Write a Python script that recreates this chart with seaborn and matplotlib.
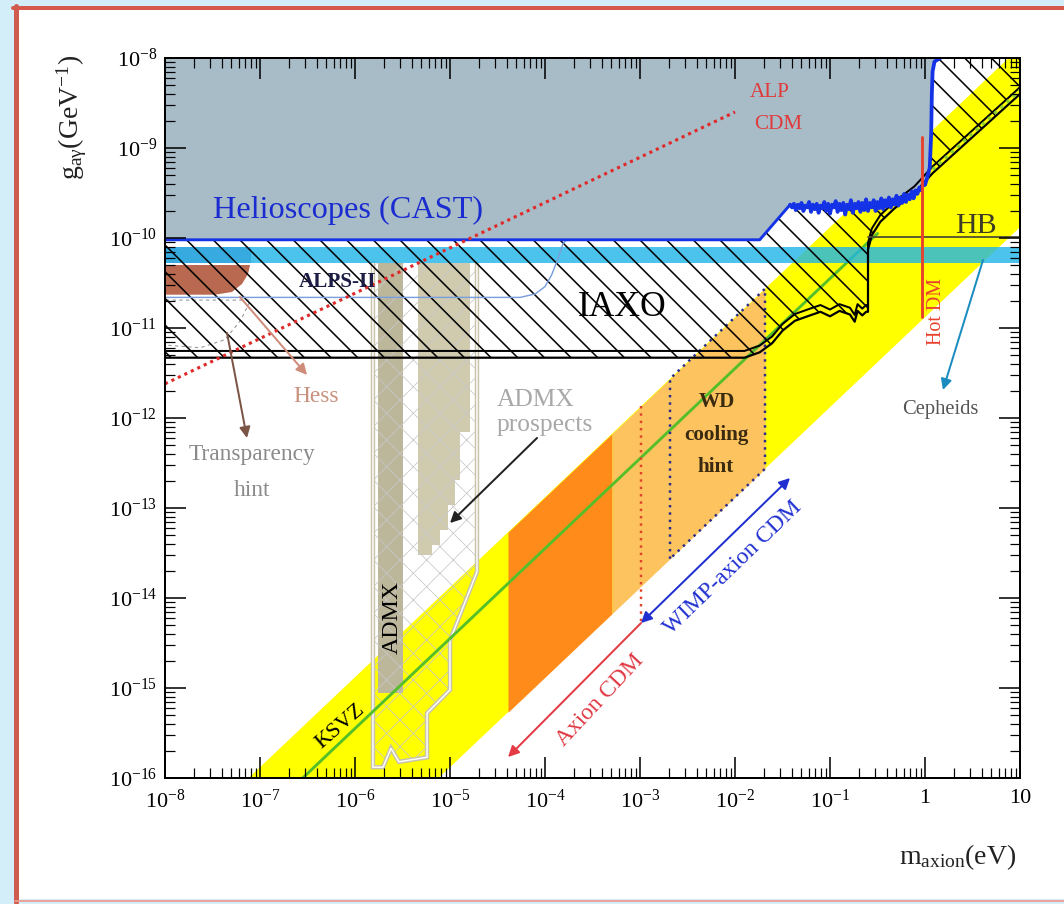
import numpy as np
import matplotlib
matplotlib.use("Agg")
import matplotlib.pyplot as plt
import seaborn as sns
from matplotlib.patches import Rectangle, Polygon
from matplotlib.lines import Line2D
from matplotlib.ticker import FixedLocator, FixedFormatter, LogLocator, NullFormatter

# ---------------- data (log10 of mass in eV / coupling in GeV^-1) ----------------
x_tick_log = [-8, -7, -6, -5, -4, -3, -2, -1, 0, 1]
x_tick_labels = [r"$\mathregular{10^{-8}}$", r"$\mathregular{10^{-7}}$", r"$\mathregular{10^{-6}}$",
                 r"$\mathregular{10^{-5}}$", r"$\mathregular{10^{-4}}$", r"$\mathregular{10^{-3}}$",
                 r"$\mathregular{10^{-2}}$", r"$\mathregular{10^{-1}}$", "1", "10"]
y_tick_log = [-16, -15, -14, -13, -12, -11, -10, -9, -8]
y_tick_labels = [r"$\mathregular{10^{%d}}$" % v for v in y_tick_log]

# QCD axion band: log g = log m + offset
band_upper_offset = -8.88
band_lower_offset = -10.88
ksvz_offset = -9.45
ksvz_logm = [-6.55, -0.5]
dark_orange_logm = [-4.39, -3.295]
light_orange_logm = [-3.295, -1.684]
wd_logm = [-2.684, -1.684]

# Helioscope (CAST) exclusion limit: flat part, noisy high-mass part, steep edge
cast_flat_logm = [-8.0, -1.74]
cast_flat_logg = [-10.02, -10.02]
cast_noise_logm = [-1.42, -1.40, -1.38, -1.36, -1.34, -1.32, -1.30, -1.28, -1.26, -1.24,
                   -1.22, -1.20, -1.18, -1.16, -1.14, -1.12, -1.10, -1.08, -1.06, -1.04,
                   -1.02, -1.00, -0.98, -0.96, -0.94, -0.92, -0.90, -0.88, -0.86, -0.84,
                   -0.82, -0.80, -0.78, -0.76, -0.74, -0.72, -0.70, -0.68, -0.66, -0.64,
                   -0.62, -0.60, -0.58, -0.56, -0.54, -0.52, -0.50, -0.48, -0.46, -0.44,
                   -0.42, -0.40, -0.38, -0.36, -0.34, -0.32, -0.30, -0.28, -0.26, -0.24,
                   -0.22, -0.20, -0.18, -0.16, -0.14, -0.12, -0.10, -0.08, -0.06, -0.04,
                   -0.02, 0.00, 0.02]
cast_noise_logg = [-9.63, -9.66, -9.62, -9.69, -9.63, -9.67, -9.61, -9.70, -9.64, -9.66,
                   -9.60, -9.71, -9.63, -9.68, -9.62, -9.72, -9.64, -9.67, -9.60, -9.70,
                   -9.62, -9.73, -9.63, -9.66, -9.59, -9.71, -9.62, -9.69, -9.61, -9.74,
                   -9.63, -9.68, -9.58, -9.72, -9.62, -9.67, -9.60, -9.71, -9.61, -9.69,
                   -9.57, -9.70, -9.61, -9.66, -9.58, -9.70, -9.60, -9.67, -9.56, -9.68,
                   -9.58, -9.65, -9.55, -9.66, -9.57, -9.63, -9.53, -9.64, -9.55, -9.61,
                   -9.51, -9.60, -9.52, -9.57, -9.48, -9.56, -9.47, -9.51, -9.44, -9.47,
                   -9.40, -9.41, -9.34]
cast_edge_logm = [0.05, 0.065, 0.072, 0.08, 0.10, 0.16]
cast_edge_logg = [-9.22, -8.85, -8.40, -8.15, -8.04, -8.0]
cast_logm = cast_flat_logm + cast_noise_logm + cast_edge_logm
cast_logg = cast_flat_logg + cast_noise_logg + cast_edge_logg

# IAXO sensitivity (lower edge of the hatched region); the second contour sits just above it
iaxo_logm = [-8.0, -1.90, -1.74, -1.61, -1.50, -1.37, -1.21, -1.10, -1.00, -0.90, -0.79, -0.74,
             -0.71, -0.66, -0.62, -0.60, -0.60, -0.56, -0.47, -0.32, -0.11, 0.08, 1.0]
iaxo_logg = [-11.33, -11.33, -11.27, -11.17, -11.03, -10.92, -10.86, -10.82, -10.87, -10.81, -10.85,
             -10.93, -10.81, -10.86, -10.82, -10.82, -10.13, -9.97, -9.82, -9.67, -9.50, -9.28, -8.40]
iaxo_plus_shift = 0.075

# ALPS-II sensitivity
alps_logm = [-8.0, -4.26, -4.10, -4.00, -3.93, -3.86, -3.81, -3.77]
alps_logg = [-10.66, -10.66, -10.62, -10.54, -10.41, -10.22, -10.06, -10.02]

# ADMX (excluded) and ADMX prospects
admx_logm = [-5.758, -5.495]
admx_logg = [-15.06, -10.28]
admx2_edges_logm = [-5.337, -5.189, -5.105, -5.021, -4.947, -4.895, -4.789]
admx2_floor_logg = [-13.52, -13.41, -13.24, -12.97, -12.69, -12.16]
admx_top_logg = -10.28
prosp_logm = [-5.811, -5.811, -5.705, -5.621, -5.537, -5.242, -5.242, -5.0, -5.0, -4.716, -4.716]
prosp_logg = [-10.28, -15.88, -15.88, -15.67, -15.82, -15.77, -15.28, -15.02, -14.47, -13.71, -10.28]

# Hess region and transparency hint
hess_logm = [-7.99, -7.105, -7.126, -7.189, -7.295, -7.474, -7.99]
hess_logg = [-10.30, -10.30, -10.40, -10.51, -10.60, -10.63, -10.63]
transp_logm = [-7.99, -7.10, -7.20, -7.37, -7.63, -7.99]
transp_logg = [-10.69, -10.69, -10.91, -11.13, -11.22, -11.19]

# Cepheid band, HB limit, Hot DM, ALP CDM line, axion CDM marker
cepheid_logg = [-10.278, -10.10]
cepheid_dark_logm = [-8.0, -7.10]
hb_logm = [-0.6, 1.0]
hb_logg = -9.99
hotdm_logm = -0.032
hotdm_logg = [-8.878, -10.878]
alp_logm = [-8.0, -2.0]
alp_logg = [-11.62, -8.60]
cdm_logm = -2.99
cdm_logg = [-11.87, -14.28]

P = lambda a: 10.0 ** np.asarray(a, dtype=float)

# ---------------- style ----------------
sns.set_theme(style="ticks")
plt.rcParams["font.family"] = ["Liberation Serif", "DejaVu Serif"]
plt.rcParams["mathtext.fontset"] = "custom"
plt.rcParams["mathtext.rm"] = "Liberation Serif"
plt.rcParams["mathtext.it"] = "Liberation Serif:italic"
plt.rcParams["mathtext.bf"] = "Liberation Serif:bold"
plt.rcParams["hatch.linewidth"] = 1.4

W, H = 1064, 904
fig = plt.figure(figsize=(W / 80, H / 80), dpi=80)
fig.patch.set_facecolor("#d4eef9")
fig.add_artist(Rectangle((16 / W, 1 - 899 / H), 1 - 16 / W, 890 / H, transform=fig.transFigure,
                         facecolor="white", edgecolor="none", zorder=-5))
fig.add_artist(Line2D([13 / W, 1], [1 - 8 / H] * 2, transform=fig.transFigure, color="#d65a4c", lw=3.6))
fig.add_artist(Line2D([15.5 / W] * 2, [1 - 6 / H, 1 - 902 / H], transform=fig.transFigure,
                      color="#cf5a4e", lw=4.5))
fig.add_artist(Line2D([15 / W, 1], [1 - 900.5 / H] * 2, transform=fig.transFigure, color="#ec9d90", lw=1.6))

ax = fig.add_axes([165 / W, 1 - 778 / H, 855 / W, 720 / H])
ax.set_facecolor("white")
ax.set_xscale("log")
ax.set_yscale("log")

# QCD axion band
m_all = P([-8, 1])
ax.fill_between(m_all, m_all * 10 ** band_lower_offset, m_all * 10 ** band_upper_offset,
                color="#ffff00", lw=0, zorder=1)
m_do = P(dark_orange_logm)
ax.fill_between(m_do, m_do * 10 ** band_lower_offset, m_do * 10 ** band_upper_offset,
                color="#ff8c1a", lw=0, zorder=2)
m_lo = P(light_orange_logm)
ax.fill_between(m_lo, m_lo * 10 ** band_lower_offset, m_lo * 10 ** band_upper_offset,
                color="#fcc35e", lw=0, zorder=2)

# ADMX
ax.fill_between(P(admx_logm), 10 ** admx_logg[0], 10 ** admx_logg[1], color="#bcb79b", lw=0, zorder=3)
ax.fill_between(P(admx2_edges_logm), P(admx2_floor_logg + [admx2_floor_logg[-1]]), 10 ** admx_top_logg,
                step="post", color="#d0cbaf", lw=0, zorder=3)
prosp = Polygon(np.column_stack([P(prosp_logm), P(prosp_logg)]), closed=True, facecolor="none",
                edgecolor="#c8c8c8", lw=0, hatch="x", zorder=4)
if hasattr(prosp, "set_hatch_linewidth"):
    prosp.set_hatch_linewidth(0.7)
ax.add_patch(prosp)
ax.plot(P(prosp_logm), P(prosp_logg), color="#c9c4aa", lw=4.0, zorder=4.2, solid_joinstyle="miter")
ax.plot(P(prosp_logm), P(prosp_logg), color="white", lw=1.3, zorder=4.3, solid_joinstyle="miter")

# KSVZ line
ks_m = P(ksvz_logm)
sns.lineplot(x=ks_m, y=ks_m * 10 ** ksvz_offset, ax=ax, color="#55bf2a", lw=2.6, zorder=5)

# WD cooling hint outline and axion CDM marker
wd_m = P(wd_logm)
wd_x = [wd_m[0], wd_m[0], wd_m[1], wd_m[1], wd_m[0]]
wd_y = [wd_m[0] * 10 ** band_lower_offset, wd_m[0] * 10 ** band_upper_offset,
        wd_m[1] * 10 ** band_upper_offset, wd_m[1] * 10 ** band_lower_offset,
        wd_m[0] * 10 ** band_lower_offset]
ax.plot(wd_x, wd_y, color="#2b2b8a", lw=2.2, ls=(0, (1, 2)), zorder=5.5)
ax.plot([10 ** cdm_logm] * 2, P(cdm_logg), color="#e0452a", lw=2.2, ls=(0, (1, 2)), zorder=5.5)

# Cepheid band and Hess region
ax.fill_between(P([-8, 1]), 10 ** cepheid_logg[0], 10 ** cepheid_logg[1], color="#1fb4e8",
                alpha=0.8, lw=0, zorder=6)
ax.fill_between(P(cepheid_dark_logm), 10 ** cepheid_logg[0], 10 ** cepheid_logg[1], color="#1f8fd0",
                alpha=0.45, lw=0, zorder=6.1)
ax.fill(P(hess_logm), P(hess_logg), color="#b8694f", lw=0, zorder=6)
ax.plot(P(transp_logm), P(transp_logg), color="#999999", lw=1.0, ls=(0, (3, 3)), zorder=6)

# CAST excluded region
ax.fill_between(P(cast_logm), P(cast_logg), 1e-8, color="#a8bcc8", lw=0, zorder=7)

# IAXO hatched region
verts = list(zip(P(cast_logm), P(cast_logg)))
verts += [(10.0, 1e-8), (10.0, 10 ** iaxo_logg[-1])]
verts += list(zip(P(iaxo_logm), P(iaxo_logg)))[::-1]
iaxo = Polygon(verts, closed=True, facecolor="none", edgecolor="black", lw=0, hatch="\\", zorder=8)
if hasattr(iaxo, "set_hatch_linewidth"):
    iaxo.set_hatch_linewidth(1.4)
ax.add_patch(iaxo)

# limit curves
sns.lineplot(x=P(iaxo_logm), y=P(iaxo_logg), ax=ax, sort=False, estimator=None, color="black", lw=2.0, zorder=9)
sns.lineplot(x=P(iaxo_logm), y=P(np.array(iaxo_logg) + iaxo_plus_shift), ax=ax, sort=False,
             estimator=None, color="black", lw=1.8, zorder=9)
ax.plot(P([0.08, 1.0]), P([iaxo_logg[-2] + 0.04, iaxo_logg[-1] + 0.04]), color="#8fd12a", lw=3.0,
        ls=(0, (1, 1.5)), zorder=9)
sns.lineplot(x=P(alps_logm), y=P(alps_logg), ax=ax, sort=False, estimator=None,
             color="#7a9fdc", lw=1.3, zorder=9)
sns.lineplot(x=P(cast_flat_logm + [cast_noise_logm[0]]), y=P(cast_flat_logg + [cast_noise_logg[0]]),
             ax=ax, sort=False, estimator=None, color="#1433e6", lw=2.6, zorder=9.5)
sns.lineplot(x=P(cast_noise_logm + cast_edge_logm), y=P(cast_noise_logg + cast_edge_logg),
             ax=ax, sort=False, estimator=None, color="#1433e6", lw=3.4, zorder=9.5)

ax.plot(P(hb_logm), [10 ** hb_logg] * 2, color="#4d4d33", lw=1.6, zorder=9)
ax.plot([10 ** hotdm_logm] * 2, P(hotdm_logg), color="#e8412c", lw=2.6, zorder=10)
ax.plot(P(alp_logm), P(alp_logg), color="#e02a2a", lw=2.8, ls=(0, (1, 1.3)), zorder=10)

# arrows
def arrow(tail, tip, color, style="-|>", lw=1.8):
    ax.annotate("", xy=(10 ** tip[0], 10 ** tip[1]), xytext=(10 ** tail[0], 10 ** tail[1]),
                arrowprops=dict(arrowstyle=style, color=color, lw=lw, mutation_scale=20,
                                shrinkA=0, shrinkB=0), zorder=11)

arrow((-7.211, -10.656), (-6.505, -11.522), "#cf8c7a")
arrow((-7.347, -11.056), (-7.137, -12.222), "#7a5444")
arrow((-4.084, -12.222), (-5.0, -13.167), "#222222")
arrow((0.611, -10.244), (0.189, -11.689), "#1a8cc0")
arrow((-2.989, -14.278), (-4.389, -15.767), "#e33a44")
arrow((-2.989, -14.278), (-1.421, -12.667), "#2030d0", style="<|-|>")

# labels
def label(logm, logg, s, size, color="black", **kw):
    ax.text(10 ** logm, 10 ** logg, s, fontsize=size, color=color, ha=kw.pop("ha", "center"),
            va=kw.pop("va", "center"), zorder=12, **kw)

label(-7.495, -9.689, "Helioscopes (CAST)", 29, "#1a2bd0", ha="left")
label(-1.632, -8.378, "ALP", 19, "#e03a3a")
label(-1.547, -8.744, "CDM", 19, "#e03a3a")
label(0.537, -9.867, "HB", 27, "#3c3c28")
label(0.126, -10.822, "Hot DM", 18, "#e8412c", rotation=90)
label(0.158, -11.911, "Cepheids", 18.5, "#555555")
label(-3.189, -10.767, "IAXO", 32, "black")
label(-6.179, -10.489, "ALPS-II", 19, "#1c1c44", fontweight="bold")
label(-6.411, -11.756, "Hess", 21, "#c8927f")
label(-7.084, -12.411, "Transparency", 21, "#8a8a8a")
label(-7.084, -12.80, "hint", 21, "#8a8a8a")
label(-4.505, -11.80, "ADMX", 23, "#a8a8a8", ha="left")
label(-4.505, -12.078, "prospects", 23, "#a8a8a8", ha="left")
label(-2.189, -11.822, "WD", 19, "#3a2a10", fontweight="bold")
label(-2.20, -12.189, "cooling", 19, "#3a2a10", fontweight="bold")
label(-2.20, -12.544, "hint", 19, "#3a2a10", fontweight="bold")
label(-5.611, -14.211, "ADMX", 21.5, "black", rotation=90)
label(-6.158, -15.433, "KSVZ", 20, "black", rotation=41, rotation_mode="anchor")
label(-3.421, -15.133, "Axion CDM", 21, "#e03a44", rotation=47, rotation_mode="anchor")
label(-2.021, -13.667, "WIMP-axion CDM", 21, "#2030d0", rotation=44, rotation_mode="anchor")

# axes
ax.set_xlim(1e-8, 10)
ax.set_ylim(1e-16, 1e-8)
ax.xaxis.set_major_locator(FixedLocator(P(x_tick_log)))
ax.xaxis.set_major_formatter(FixedFormatter(x_tick_labels))
ax.yaxis.set_major_locator(FixedLocator(P(y_tick_log)))
ax.yaxis.set_major_formatter(FixedFormatter(y_tick_labels))
for axis in (ax.xaxis, ax.yaxis):
    axis.set_minor_locator(LogLocator(base=10, subs=np.arange(2, 10), numticks=100))
    axis.set_minor_formatter(NullFormatter())
    axis.set_zorder(30)
ax.tick_params(which="both", direction="in", top=True, right=True, colors="black")
ax.tick_params(which="major", length=19, width=1.4, labelsize=20)
ax.tick_params(which="minor", length=9, width=1.1)
ax.tick_params(axis="x", which="major", pad=10)
ax.tick_params(axis="y", which="major", pad=7)
for s in ax.spines.values():
    s.set_linewidth(1.8)
    s.set_color("black")
    s.set_zorder(30)
ax.set_xlabel("")
ax.set_ylabel("")

fig.text(72 / W, 1 - 117 / H, r"$\mathregular{g_{a\gamma}(GeV^{-1})}$", fontsize=25, rotation=90,
         ha="center", va="center", color="#222222")
fig.text(958 / W, 1 - 857 / H, r"$\mathregular{m_{axion}(eV)}$", fontsize=25,
         ha="center", va="center", color="#222222")

fig.savefig("out.png", dpi=80, facecolor=fig.get_facecolor())
